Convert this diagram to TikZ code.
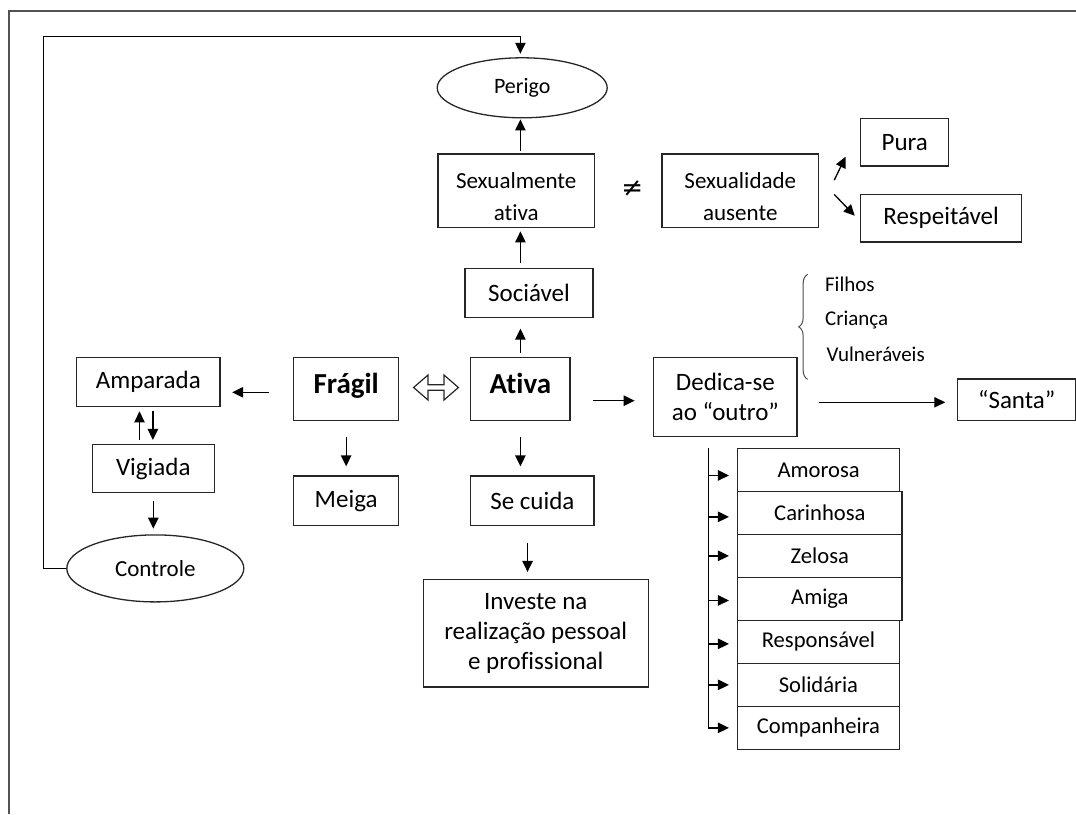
\documentclass[tikz,border=0pt]{standalone}
\usepackage{fontspec}
\setmainfont{Carlito}[Ligatures=NoCommon]
\newfontfamily\symbfont{DejaVu Sans}
\usetikzlibrary{arrows.meta,positioning,calc,shapes.geometric,decorations.pathreplacing}
\tikzset{
  box/.style={draw=black!85, line width=0.65pt, align=center, inner sep=2pt, font=\fontsize{12.5}{15}\selectfont},
  keybox/.style={box, text height=10pt, text depth=6pt, font=\bfseries\fontsize{14.5}{17}\selectfont},
  sexbox/.style={box, minimum width=78.2pt, minimum height=36.65pt, font=\fontsize{11.5}{15.8}\selectfont},
  oval/.style={ellipse, draw=black!85, line width=0.65pt, inner sep=1pt, font=\fontsize{11.5}{14}\selectfont},
  trait/.style={draw=black!85, line width=0.65pt, outer sep=0pt, minimum height=21.5pt, font=\fontsize{11.3}{13}\selectfont},
  tag/.style={inner sep=0pt, anchor=west, font=\fontsize{10.5}{12}\selectfont},
  line/.style={-{Triangle[length=5.5pt,width=5.2pt]}, line width=0.65pt},
  frame/.style={draw=black!68, line width=1pt},
  bracket/.style={decorate, decoration={brace, amplitude=4.5pt}, draw=black!70, line width=0.5pt}
}
\newcommand{\lowstrut}{\rule{0pt}{14pt}}
\begin{document}
\begin{tikzpicture}
  \useasboundingbox (0,0) rectangle (538pt,-407pt);
  \draw[frame] (4.65pt,-407pt) |- (538pt,-5.7pt);

  % centre column
  \node[keybox, minimum width=49.7pt, minimum height=31.7pt] (ativa) at (260.2pt,-194.5pt) {Ativa};
  \node[box, minimum width=64pt, minimum height=24.5pt, above=19.15pt of ativa, xshift=4.3pt] (soc) {Sociável};
  \node[sexbox, above=20pt of soc, xshift=-6.4pt] (sexat) {\lowstrut Sexualmente\\ativa};
  \node[oval, minimum width=85pt, minimum height=30pt, above=17.5pt of sexat, xshift=3pt, font=\fontsize{11}{13}\selectfont] (perigo) {Perigo};
  \node[box, minimum width=61.65pt, minimum height=24.65pt, below=27pt of ativa.south west, anchor=north west] (cuida) {Se cuida};
  \node[box, minimum width=112.5pt, minimum height=53.8pt, below=26.35pt of cuida, xshift=1.7pt] (investe) {Investe na\\realização pessoal\\e profissional};

  % left side
  \node[keybox, minimum width=52.35pt, minimum height=31.7pt, left=35.45pt of ativa] (frag) {Frágil};
  \node[box, minimum width=52.35pt, minimum height=24.65pt, below=27pt of frag] (meiga) {Meiga};
  \node[box, minimum width=71.8pt, minimum height=24.7pt, left=36.2pt of frag.north west, anchor=north east] (amp) {Amparada};
  \node[box, minimum width=61pt, minimum height=23.9pt, below=18.3pt of amp, xshift=2.5pt] (vig) {Vigiada};
  \node[oval, minimum width=88.5pt, minimum height=33.5pt, below=20.6pt of vig, xshift=1pt] (ctrl) {Controle};

  % upper right
  \node[sexbox, minimum width=78.3pt, right=33.15pt of sexat] (sexaus) {\lowstrut Sexualidade\\ausente};
  \node[box, minimum width=44.1pt, minimum height=23.85pt, right=20.35pt of sexaus.north east, anchor=north west, yshift=17.85pt] (pura) {Pura};
  \node[box, minimum width=80.5pt, minimum height=23.85pt, right=20.35pt of sexaus.south east, anchor=south west, yshift=-7.35pt] (resp) {Respeitável};
  \node[font=\symbfont\fontsize{13}{15}\selectfont] (neq) at ($(sexat.east)!0.5!(sexaus.west)+(2pt,1.3pt)$) {≠};

  % right side
  \node[box, minimum width=71.6pt, minimum height=39.7pt, right=41.2pt of ativa.north east, anchor=north west] (dedica) {Dedica-se\\ao “outro”};
  \node[box, minimum width=59.15pt, minimum height=20.85pt, right=79.65pt of dedica, yshift=-1.4pt] (santa) {“Santa”};
  \node[tag] (filhos) at ([shift={(13.5pt,36.15pt)}]dedica.north east) {Filhos};
  \node[tag, below=18pt of filhos.west, anchor=west] (crianca) {Criança};
  \node[tag, below=17pt of crianca.west, anchor=west, xshift=0.8pt] (vuln) {Vulneráveis};

  % qualities of the one who dedicates herself
  \node[trait, minimum width=81pt, anchor=north west] (amorosa) at ([shift={(42.25pt,-5.5pt)}]dedica.south west) {Amorosa};
  \node[trait, minimum width=82.2pt, below=0pt of amorosa.south west, anchor=north west] (carinhosa) {Carinhosa};
  \node[trait, minimum width=82.2pt, below=0pt of carinhosa.south west, anchor=north west] (zelosa) {Zelosa};
  \node[trait, minimum width=82.2pt, below=0pt of zelosa.south west, anchor=north west] (amiga) {Amiga};
  \node[trait, minimum width=80.8pt, below=0pt of amiga.south west, anchor=north west] (responsavel) {Responsável};
  \node[trait, minimum width=80.8pt, below=0pt of responsavel.south west, anchor=north west] (solidaria) {Solidária};
  \node[trait, minimum width=80.8pt, below=0pt of solidaria.south west, anchor=north west] (companheira) {Companheira};

  % connectors
  \draw[line, shorten <=2pt, shorten >=5.15pt] (ativa.north) -- (ativa.north |- soc.south);
  \draw[line, shorten <=2.5pt, shorten >=1.65pt] (ativa.north |- soc.north) -- (ativa.north |- sexat.south);
  \draw[line, shorten <=1.3pt, shorten >=0.5pt] (ativa.north |- sexat.north) -- (ativa.north |- perigo.south);
  \coordinate (lp) at ([xshift=-11.4pt]ctrl.west);
  \draw[line, shorten >=1.7pt] (ctrl.west) -- (lp) |- ([yshift=10.5pt]ativa.north |- perigo.north) -- (ativa.north |- perigo.north);

  \coordinate (fa) at ([yshift=-1.65pt]frag.west);
  \draw[line, shorten <=12pt, shorten >=5.7pt] (fa) -- (fa -| amp.east);
  \coordinate (avu) at ([xshift=-4.4pt]amp.south);
  \coordinate (avd) at ([xshift=2.3pt]amp.south);
  \draw[line, shorten <=2pt, shorten >=2pt] (avu |- vig.north) -- (avu);
  \draw[line, shorten <=2pt, shorten >=2pt] (avd) -- (avd |- vig.north);
  \draw[line, shorten <=4.15pt, shorten >=2.8pt] (vig.south) -- (vig.south |- ctrl.north);
  \draw[line, shorten <=7.65pt, shorten >=4.5pt] (frag.south) -- (meiga.north);
  \draw[line, shorten <=7.65pt, shorten >=4.5pt] (ativa.south) -- (ativa.south |- cuida.north);
  \coordinate (ci) at ([xshift=-2.4pt]cuida.south);
  \draw[line, shorten <=8.35pt, shorten >=3.35pt] (ci) -- (ci |- investe.north);

  % hollow double arrow between Frágil and Ativa
  \coordinate (dbl) at ($(frag.east)!0.5!(ativa.west)+(0.7pt,0.75pt)$);
  \draw[draw=black!85, line width=0.6pt, line join=miter] ($(dbl)+(-11.2pt,0)$) -- ++(7.2pt,6.25pt) -- ++(0,-4.85pt) -- ++(8pt,0) -- ++(0,4.85pt) -- ++(7.2pt,-6.25pt) -- ++(-7.2pt,-6.25pt) -- ++(0,4.85pt) -- ++(-8pt,0) -- ++(0,-4.85pt) -- cycle;

  \draw[line] ([shift={(7.5pt,5.3pt)}]sexaus.east) -- ([shift={(13.15pt,17pt)}]sexaus.east);
  \draw[line] ([shift={(7.5pt,-1.85pt)}]sexaus.east) -- ([shift={(17.75pt,-12.5pt)}]sexaus.east);

  \coordinate (ad) at ([yshift=-5.85pt]ativa.east);
  \draw[line, shorten <=11.1pt, shorten >=9.25pt] (ad) -- (ad -| dedica.west);
  \coordinate (ds) at ([yshift=-1.25pt]santa.west);
  \draw[line, shorten <=10.65pt, shorten >=5.85pt] (ds -| dedica.east) -- (ds);
  \draw[bracket] ([shift={(-8.5pt,-12.5pt)}]filhos.west |- vuln.west) -- ([shift={(-8.5pt,5pt)}]filhos.west);

  \coordinate (spine) at ([xshift=-14.75pt]amorosa.north west);
  \draw[line, shorten >=4.35pt] (spine) |- (companheira.west);
  \draw[line, shorten >=4.35pt] ([yshift=-2.8pt]spine |- amorosa.west) -- ([yshift=-2.8pt]amorosa.west);
  \draw[line, shorten >=4.35pt] ([yshift=-2pt]spine |- carinhosa.west) -- ([yshift=-2pt]carinhosa.west);
  \draw[line, shorten >=4.35pt] (spine |- zelosa.west) -- (zelosa.west);
  \draw[line, shorten >=4.35pt] ([yshift=-0.8pt]spine |- amiga.west) -- ([yshift=-0.8pt]amiga.west);
  \draw[line, shorten >=4.35pt] ([yshift=-1pt]spine |- responsavel.west) -- ([yshift=-1pt]responsavel.west);
  \draw[line, shorten >=4.35pt] (spine |- solidaria.west) -- (solidaria.west);
\end{tikzpicture}
\end{document}
